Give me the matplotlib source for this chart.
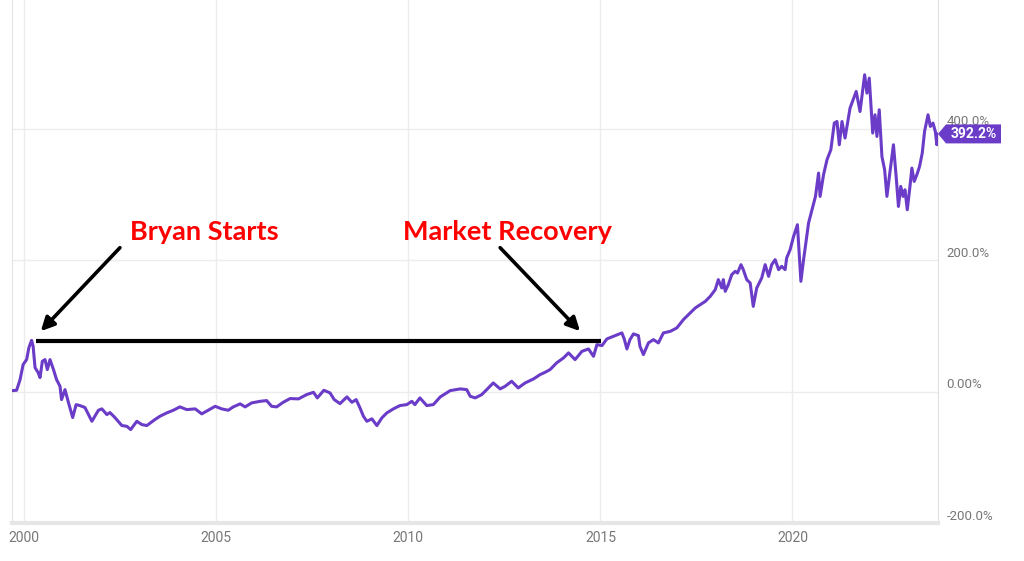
import numpy as np
import matplotlib
matplotlib.use("Agg")
import matplotlib.pyplot as plt
from matplotlib.patches import Polygon
from matplotlib.transforms import ScaledTranslation

# total return (%), decimal years
years = [1999.70, 1999.80, 1999.89, 1999.97, 2000.06, 2000.12, 2000.19, 2000.23, 2000.28, 2000.36,
         2000.41, 2000.47, 2000.54, 2000.60, 2000.67, 2000.76, 2000.84, 2000.93, 2000.97, 2001.06,
         2001.15, 2001.26, 2001.35, 2001.45, 2001.58, 2001.76, 2001.93, 2002.02, 2002.15, 2002.23,
         2002.36, 2002.54, 2002.67, 2002.77, 2002.93, 2003.06, 2003.19, 2003.40, 2003.53, 2003.71,
         2003.88, 2004.05, 2004.23, 2004.45, 2004.62, 2004.79, 2004.97, 2005.14, 2005.31, 2005.44,
         2005.62, 2005.75, 2005.92, 2006.14, 2006.31, 2006.44, 2006.57, 2006.74, 2006.92, 2007.14,
         2007.35, 2007.53, 2007.63, 2007.80, 2007.96, 2008.07, 2008.22, 2008.40, 2008.53, 2008.64,
         2008.74, 2008.83, 2008.92, 2009.05, 2009.18, 2009.31, 2009.44, 2009.61, 2009.78, 2009.96,
         2010.09, 2010.17, 2010.30, 2010.48, 2010.65, 2010.83, 2011.09, 2011.35, 2011.52, 2011.61,
         2011.74, 2011.91, 2012.04, 2012.21, 2012.39, 2012.52, 2012.69, 2012.86, 2013.04, 2013.26,
         2013.43, 2013.56, 2013.69, 2013.86, 2014.04, 2014.17, 2014.34, 2014.52, 2014.69, 2014.82,
         2014.91, 2015.04, 2015.17, 2015.34, 2015.56, 2015.62, 2015.69, 2015.77, 2015.86, 2015.99,
         2016.03, 2016.12, 2016.25, 2016.38, 2016.51, 2016.64, 2016.82, 2016.99, 2017.16, 2017.34,
         2017.47, 2017.60, 2017.73, 2017.86, 2017.99, 2018.07, 2018.16, 2018.20, 2018.25, 2018.33,
         2018.42, 2018.51, 2018.57, 2018.66, 2018.72, 2018.81, 2018.90, 2018.98, 2019.07, 2019.20,
         2019.29, 2019.38, 2019.46, 2019.55, 2019.64, 2019.72, 2019.81, 2019.85, 2019.94, 2020.03,
         2020.13, 2020.22, 2020.29, 2020.42, 2020.51, 2020.60, 2020.68, 2020.72, 2020.81, 2020.90,
         2021.00, 2021.09, 2021.16, 2021.22, 2021.29, 2021.37, 2021.50, 2021.66, 2021.76, 2021.88,
         2021.94, 2022.00, 2022.09, 2022.15, 2022.20, 2022.26, 2022.33, 2022.40, 2022.46, 2022.53,
         2022.63, 2022.70, 2022.76, 2022.82, 2022.88, 2022.93, 2022.99, 2023.06, 2023.11, 2023.17,
         2023.24, 2023.31, 2023.38, 2023.44, 2023.53, 2023.59, 2023.66, 2023.72, 2023.76, 2023.78]
returns = [1.5, 2.0, 18.3, 41.1, 48.7, 66.9, 78.0, 68.9, 36.5, 28.9,
           21.3, 46.1, 48.7, 33.5, 48.7, 33.5, 18.3, 8.1, -12.2, 3.0,
           -16.7, -39.5, -19.8, -21.3, -24.3, -45.2, -28.4, -26.3, -35.0, -31.9,
           -39.5, -51.7, -52.8, -57.8, -45.2, -50.2, -51.7, -42.6, -37.6, -32.4,
           -28.4, -23.3, -27.4, -26.3, -33.9, -28.4, -22.4, -26.3, -28.4, -23.3,
           -18.7, -23.3, -17.2, -14.8, -13.7, -22.4, -23.3, -16.3, -10.6, -11.1,
           -4.6, -1.1, -9.6, 2.0, -2.0, -12.2, -18.3, -8.1, -16.3, -12.2,
           -24.8, -37.6, -45.2, -41.5, -51.7, -40.0, -32.4, -26.3, -21.3, -19.8,
           -14.8, -19.8, -9.6, -21.3, -19.8, -8.1, 1.5, 4.1, 3.0, -7.1,
           -9.6, -4.6, 3.0, 13.2, 4.1, 8.1, 15.7, 5.6, 13.2, 19.3,
           25.9, 29.4, 33.5, 43.7, 51.3, 58.9, 48.7, 61.3, 64.9, 53.7,
           71.5, 70.0, 80.2, 84.1, 89.3, 80.2, 64.9, 79.1, 87.8, 85.2,
           68.9, 56.3, 74.1, 79.1, 74.1, 89.3, 91.7, 96.9, 109.5, 119.7,
           127.3, 132.3, 137.3, 145.0, 155.1, 170.4, 157.7, 170.4, 152.6, 162.7,
           178.0, 183.0, 180.5, 193.2, 185.6, 170.4, 165.3, 129.7, 157.7, 172.9,
           193.2, 175.4, 193.2, 200.8, 185.6, 190.6, 185.6, 203.4, 216.0, 236.2,
           254.0, 167.8, 200.8, 256.6, 276.8, 297.1, 332.6, 297.1, 330.1, 352.9,
           368.1, 408.7, 411.1, 375.7, 411.1, 385.9, 431.5, 456.8, 426.3, 482.2,
           454.3, 477.1, 393.5, 421.3, 388.3, 428.9, 357.9, 337.7, 297.1, 330.1,
           375.7, 327.5, 281.8, 312.3, 297.1, 307.2, 276.8, 312.3, 340.2, 319.9,
           330.1, 342.7, 363.1, 395.9, 421.3, 403.5, 408.7, 395.9, 375.7, 392.2]

x_ticks = [2000, 2005, 2010, 2015, 2020]
y_ticks = [-200, 0, 200, 400]
y_tick_labels = ["-200.0%", "0.00%", "200.0%", "400.0%"]

# annotation layout
level = 77.6                     # the 2000 high, drawn as a flat line
level_span = (2000.31, 2015.02)
arrow1 = ((2002.49, 219), (2000.43, 92))
arrow2 = ((2012.39, 219), (2014.47, 92))
text1 = (2002.76, 230, "Bryan Starts")
text2 = (2009.87, 230, "Market Recovery")

purple = "#6a3cc8"
grey_txt = "#777777"
grid_c = "#ececec"

fig = plt.figure(figsize=(10.24, 5.61), dpi=100)
ax = fig.add_axes([12 / 1024, 38 / 561, 926 / 1024, 523 / 561])

ax.plot(years, returns, color=purple, lw=2.2, zorder=3)

ax.set_xlim(1999.68, 2023.79)
ax.set_ylim(-200, 596)

ax.set_xticks(x_ticks)
ax.set_xticklabels([str(y) for y in x_ticks])
ax.set_yticks(y_ticks)
ax.set_yticklabels(y_tick_labels)
ax.yaxis.tick_right()
ax.tick_params(axis="both", length=0, labelcolor=grey_txt)
ax.tick_params(axis="x", pad=6, labelsize=10)
ax.tick_params(axis="y", pad=6, labelsize=9.5)
for lab in ax.get_xticklabels() + ax.get_yticklabels():
    lab.set_family("Roboto")
# y labels sit a little above their grid lines
up = ScaledTranslation(0, 5 / 72, fig.dpi_scale_trans)
for lab in ax.get_yticklabels():
    lab.set_transform(lab.get_transform() + up)
    lab.set_verticalalignment("center")

ax.grid(True, color=grid_c, lw=1)
ax.set_axisbelow(True)
ax.spines["top"].set_visible(False)
ax.spines["left"].set_color("#e4e4e4")
ax.spines["left"].set_linewidth(0.8)
ax.spines["right"].set_color("#e0e0e0")
ax.spines["right"].set_linewidth(0.8)
ax.spines["bottom"].set_color("#e6e6e6")
ax.spines["bottom"].set_linewidth(3)

# annotations
ax.plot(level_span, [level, level], color="black", lw=3, solid_capstyle="butt", zorder=4)
for (tail, head) in [arrow1, arrow2]:
    ax.annotate("", xy=head, xytext=tail,
                arrowprops=dict(arrowstyle="-|>", color="black", lw=2.6,
                                mutation_scale=20, shrinkA=0, shrinkB=0),
                zorder=5)
for (tx, ty, s) in [text1, text2]:
    ax.text(tx, ty, s, color="#ff0000", fontsize=19.5, fontweight="bold",
            family="Lato", ha="left", va="baseline", zorder=5)

# last value tag on the right
last = returns[-1]
fig.canvas.draw()
px, py = ax.transData.transform((ax.get_xlim()[1], last))
h = 9.5
tag = Polygon([(px, py), (px + 8, py + h), (px + 63, py + h),
               (px + 63, py - h), (px + 8, py - h)],
              closed=True, transform=None, facecolor=purple,
              edgecolor="none", clip_on=False, zorder=6)
fig.add_artist(tag)
fig.text((px + 36) / fig.bbox.width, py / fig.bbox.height, f"{last:.1f}%",
         color="white", fontsize=10, fontweight="bold", family="Roboto",
         ha="center", va="center", zorder=7)

fig.savefig("out.png", dpi=100)
